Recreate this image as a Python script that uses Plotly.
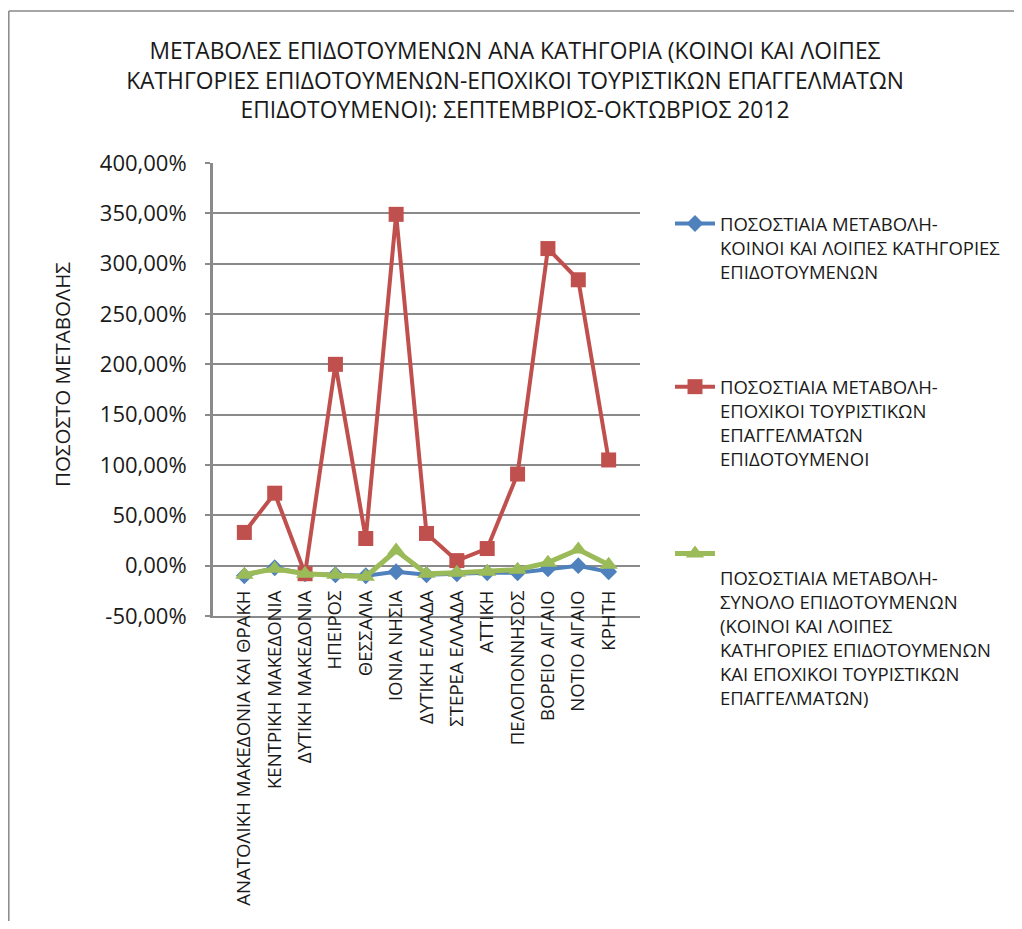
import plotly.graph_objects as go

categories = [
    "ΑΝΑΤΟΛΙΚΗ ΜΑΚΕΔΟΝΙΑ ΚΑΙ ΘΡΑΚΗ", "ΚΕΝΤΡΙΚΗ ΜΑΚΕΔΟΝΙΑ", "ΔΥΤΙΚΗ ΜΑΚΕΔΟΝΙΑ",
    "ΗΠΕΙΡΟΣ", "ΘΕΣΣΑΛΙΑ", "ΙΟΝΙΑ ΝΗΣΙΑ", "ΔΥΤΙΚΗ ΕΛΛΑΔΑ", "ΣΤΕΡΕΑ ΕΛΛΑΔΑ",
    "ΑΤΤΙΚΗ", "ΠΕΛΟΠΟΝΝΗΣΟΣ", "ΒΟΡΕΙΟ ΑΙΓΑΙΟ", "ΝΟΤΙΟ ΑΙΓΑΙΟ", "ΚΡΗΤΗ",
]
common = [-10, -2, -8, -9, -10, -6, -9, -8, -7, -7, -3, 0, -6]
seasonal = [33, 72, -8, 200, 27, 349, 32, 5, 17, 91, 315, 284, 105]
total = [-9, -3, -8, -9, -11, 15, -8, -7, -6, -4, 3, 16, 1]

tick_values = [-50, 0, 50, 100, 150, 200, 250, 300, 350, 400]
tick_labels = ["-50,00%", "0,00%", "50,00%", "100,00%", "150,00%", "200,00%",
               "250,00%", "300,00%", "350,00%", "400,00%"]

names = [
    "ΠΟΣΟΣΤΙΑΙΑ ΜΕΤΑΒΟΛΗ-<br>ΚΟΙΝΟΙ ΚΑΙ ΛΟΙΠΕΣ ΚΑΤΗΓΟΡΙΕΣ<br>ΕΠΙΔΟΤΟΥΜΕΝΩΝ",
    "ΠΟΣΟΣΤΙΑΙΑ ΜΕΤΑΒΟΛΗ-<br>ΕΠΟΧΙΚΟΙ ΤΟΥΡΙΣΤΙΚΩΝ<br>ΕΠΑΓΓΕΛΜΑΤΩΝ<br>ΕΠΙΔΟΤΟΥΜΕΝΟΙ",
    "ΠΟΣΟΣΤΙΑΙΑ ΜΕΤΑΒΟΛΗ-<br>ΣΥΝΟΛΟ ΕΠΙΔΟΤΟΥΜΕΝΩΝ<br>(ΚΟΙΝΟΙ ΚΑΙ ΛΟΙΠΕΣ<br>ΚΑΤΗΓΟΡΙΕΣ ΕΠΙΔΟΤΟΥΜΕΝΩΝ<br>ΚΑΙ ΕΠΟΧΙΚΟΙ ΤΟΥΡΙΣΤΙΚΩΝ<br>ΕΠΑΓΓΕΛΜΑΤΩΝ)",
]
title_text = ("ΜΕΤΑΒΟΛΕΣ ΕΠΙΔΟΤΟΥΜΕΝΩΝ ΑΝΑ ΚΑΤΗΓΟΡΙΑ (ΚΟΙΝΟΙ ΚΑΙ ΛΟΙΠΕΣ<br>"
              "ΚΑΤΗΓΟΡΙΕΣ ΕΠΙΔΟΤΟΥΜΕΝΩΝ-ΕΠΟΧΙΚΟΙ ΤΟΥΡΙΣΤΙΚΩΝ ΕΠΑΓΓΕΛΜΑΤΩΝ<br>"
              "ΕΠΙΔΟΤΟΥΜΕΝΟΙ): ΣΕΠΤΕΜΒΡΙΟΣ-ΟΚΤΩΒΡΙΟΣ 2012")
y_title = "ΠΟΣΟΣΤΟ ΜΕΤΑΒΟΛΗΣ"

FONT = "Open Sans"
TXT = "#1a1a1a"
OFF = 8  # page body margin
W, H = 1022 - 2 * OFF, 929 - 2 * OFF
# target page coordinates of plot area
PL, PR, PT, PB = 213, 640, 163, 616
L, R, T, B = PL - OFF, PR - OFF, PT - OFF, PB - OFF


def px_x(px):
    return (px - PL) / (PR - PL)


def px_y(py):
    return (PB - py) / (PB - PT)


fig = go.Figure()
fig.add_trace(go.Scatter(
    x=categories, y=common, name=names[0], mode="lines+markers", legendgroup="a",
    line=dict(color="#4F81BD", width=4),
    marker=dict(symbol="diamond", size=13, color="#4F81BD")))
fig.add_trace(go.Scatter(
    x=categories, y=seasonal, name=names[1], mode="lines+markers", legendgroup="b",
    line=dict(color="#C0504D", width=4),
    marker=dict(symbol="square", size=15, color="#C0504D")))
fig.add_trace(go.Scatter(
    x=categories, y=total, name="<br>" + names[2], mode="lines+markers", legendgroup="c",
    legend="legend2",
    line=dict(color="#9BBB59", width=5),
    marker=dict(symbol="triangle-up", size=16, color="#9BBB59")))

legend_font = dict(size=18.5, family=FONT, color=TXT)
fig.update_layout(
    width=W, height=H,
    margin=dict(l=L, r=W - R, t=T, b=H - B, autoexpand=False),
    paper_bgcolor="white", plot_bgcolor="white",
    font=dict(family=FONT, color=TXT),
    title=dict(text=title_text, x=(515 - OFF) / W, xanchor="center",
               y=1 - (59 - OFF) / H, yanchor="top",
               font=dict(size=22.8, family=FONT, color=TXT)),
    legend=dict(x=px_x(670), y=px_y(205), xanchor="left", yanchor="top",
                font=legend_font, valign="top", tracegroupgap=88, itemwidth=40,
                bgcolor="rgba(0,0,0,0)"),
    legend2=dict(x=px_x(670), y=px_y(535), xanchor="left", yanchor="top",
                 font=legend_font, valign="top", itemwidth=40,
                 bgcolor="rgba(0,0,0,0)"),
    showlegend=True,
    shapes=[
        dict(type="line", xref="paper", yref="paper", x0=px_x(8.8), x1=px_x(1040),
             y0=px_y(11), y1=px_y(11), line=dict(color="#888888", width=1.5)),
        dict(type="line", xref="paper", yref="paper", x0=px_x(8.8), x1=px_x(8.8),
             y0=px_y(11), y1=px_y(950), line=dict(color="#888888", width=1.5)),
    ],
    annotations=[
        dict(text=y_title, xref="paper", yref="paper", x=px_x(62), y=px_y(375),
             xanchor="center", yanchor="middle", textangle=-90, showarrow=False,
             font=dict(size=20.5, family=FONT, color=TXT)),
    ],
)
fig.update_yaxes(
    range=[-50, 400], tickvals=tick_values, ticktext=tick_labels,
    showgrid=True, gridcolor="#8a8a8a", gridwidth=2,
    showline=True, linecolor="#8a8a8a", linewidth=3,
    ticks="outside", ticklen=5, tickcolor="#8a8a8a", tickwidth=2,
    ticklabelstandoff=14,
    zeroline=False,
    tickfont=dict(size=22, family=FONT, color=TXT),
)
fig.update_xaxes(
    type="category", tickangle=-90,
    showline=True, linecolor="#8a8a8a", linewidth=2,
    showgrid=False, ticks="",
    ticklabelstandoff=-35,
    tickfont=dict(size=18.6, family=FONT, color=TXT),
)

fig.write_html("out.html")
